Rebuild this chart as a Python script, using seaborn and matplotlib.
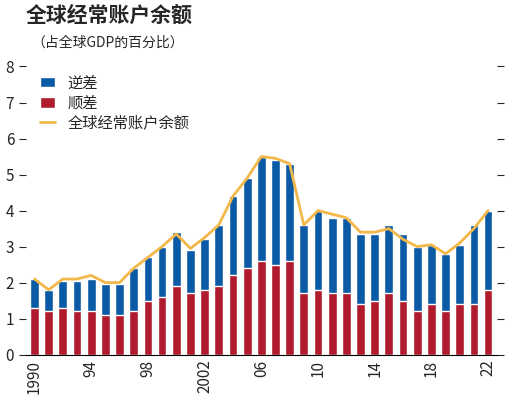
import matplotlib
matplotlib.use("Agg")
import matplotlib.pyplot as plt
import seaborn as sns
import numpy as np

years = list(range(1990, 2023))
surplus = [1.3, 1.2, 1.3, 1.2, 1.2, 1.1, 1.1, 1.2, 1.5, 1.6, 1.9, 1.7, 1.8, 1.9, 2.2, 2.4, 2.6, 2.5, 2.6,
           1.7, 1.8, 1.7, 1.7, 1.4, 1.5, 1.7, 1.5, 1.2, 1.4, 1.2, 1.4, 1.4, 1.8]
total = [2.1, 1.8, 2.05, 2.05, 2.1, 1.95, 1.95, 2.4, 2.7, 3.0, 3.4, 2.9, 3.2, 3.6, 4.4, 4.9, 5.5, 5.4, 5.3,
         3.6, 4.0, 3.8, 3.8, 3.35, 3.35, 3.6, 3.35, 3.0, 3.05, 2.8, 3.05, 3.6, 4.0]
line = [2.1, 1.8, 2.1, 2.1, 2.2, 2.0, 2.0, 2.4, 2.7, 3.0, 3.35, 2.95, 3.25, 3.6, 4.4, 4.9, 5.5, 5.45, 5.3,
        3.6, 4.0, 3.9, 3.8, 3.4, 3.4, 3.5, 3.2, 3.0, 3.05, 2.8, 3.1, 3.5, 4.0]
tick_labels = ["1990", "94", "98", "2002", "06", "10", "14", "18", "22"]

sns.set_style("white")
plt.rcParams['font.family'] = ['Noto Sans CJK SC', 'DejaVu Sans']

fig, ax = plt.subplots(figsize=(5.2, 4.03), dpi=100)
fig.subplots_adjust(left=0.05, right=0.955, top=0.835, bottom=0.12)
x = np.arange(len(years))
b1 = ax.bar(x, total, width=0.62, color="#0b5aa6", label="逆差")
b2 = ax.bar(x, surplus, width=0.62, color="#b01c2e", label="顺差")
l1, = ax.plot(x, line, color="#f2b94a", lw=2, label="全球经常账户余额")

ax.set_ylim(0, 8)
ax.set_xlim(-0.6, len(years) - 0.4)
ax.set_yticks(range(9))
ax.set_xticks(x[::4])
ax.set_xticklabels(tick_labels, rotation=90, fontsize=11)
ax.set_xticks(x, minor=True)
ax.tick_params(axis="y", which="both", left=True, right=True, labelright=False, length=5, labelsize=11)
ax.tick_params(axis="x", which="both", bottom=True, direction="in", length=4)
for s in ["top", "right", "left"]:
    ax.spines[s].set_visible(False)
ax.spines["bottom"].set_color("black")

ax.legend(handles=[b1, b2, l1], loc="upper left", frameon=False, fontsize=11,
          bbox_to_anchor=(0.0, 1.02), handlelength=1.0, labelspacing=0.2)
fig.text(0.05, 0.945, "全球经常账户余额", fontsize=15, fontweight="bold")
fig.text(0.06, 0.885, "（占全球GDP的百分比）", fontsize=10)
fig.savefig("out.png")
